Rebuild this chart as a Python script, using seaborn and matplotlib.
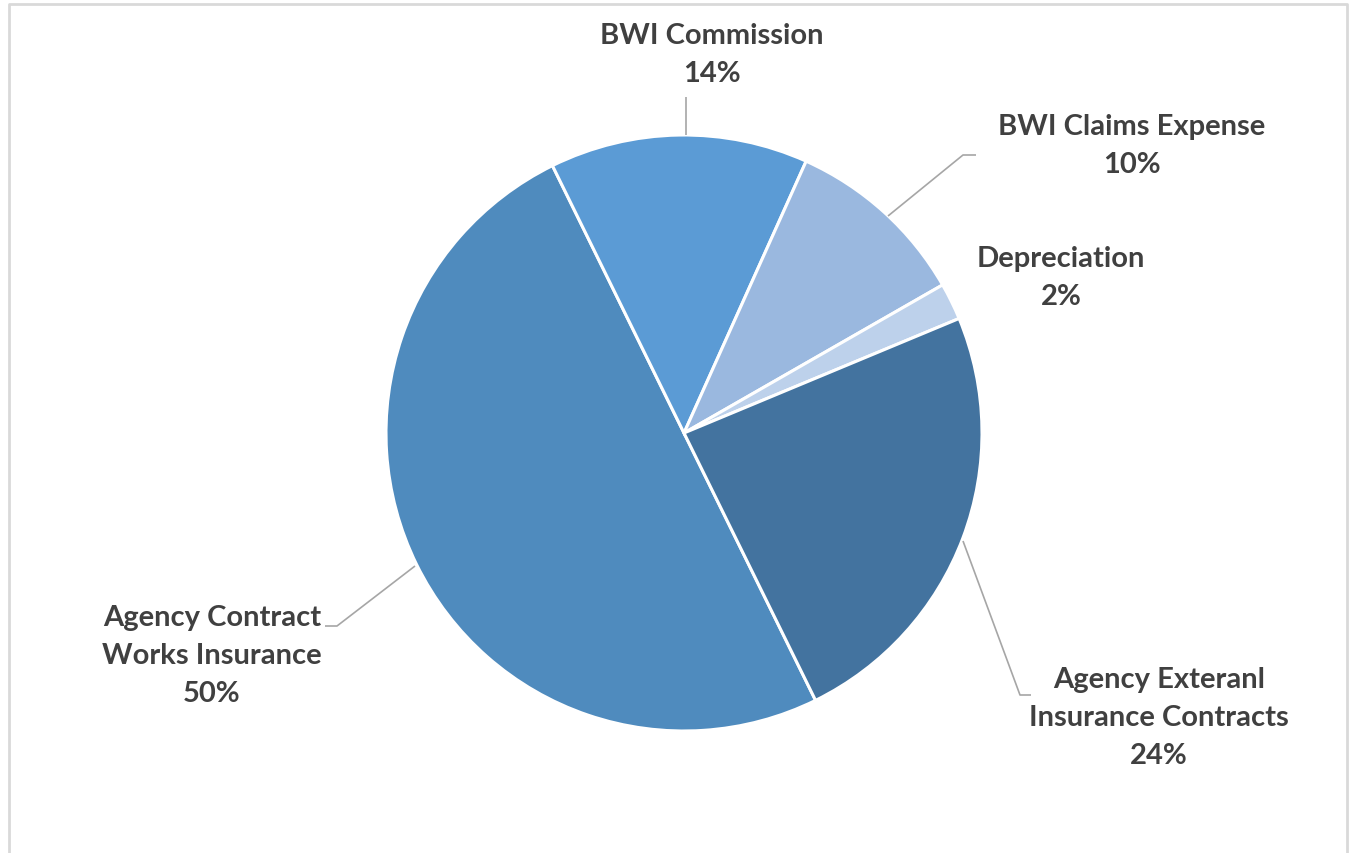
import matplotlib
matplotlib.use("Agg")
import matplotlib.pyplot as plt
import seaborn as sns

# Expense breakdown (percent of total)
categories = [
    "Agency Contract\nWorks Insurance",
    "BWI Commission",
    "BWI Claims Expense",
    "Depreciation",
    "Agency Exteranl\nInsurance Contracts",
]
shares = [50, 14, 10, 2, 24]
slice_colors = ["#4F8BBE", "#5B9BD5", "#9AB8DF", "#BDD1EB", "#43739F"]

sns.set_theme(style="white")
plt.rcParams["font.family"] = ["Lato", "DejaVu Sans"]

W, H = 1354, 854
fig = plt.figure(figsize=(W / 100, H / 100), dpi=100)
ax = fig.add_axes([0, 0, 1, 1])

cx, cy, r = 684, H - 434, 298
wedges, _ = ax.pie(
    shares,
    colors=slice_colors,
    startangle=-63.8,
    counterclock=False,
    center=(cx, cy),
    radius=r,
    wedgeprops=dict(edgecolor="white", linewidth=2.2),
    frame=True,
)
ax.set_xlim(0, W)
ax.set_ylim(0, H)
ax.set_aspect("equal")
ax.axis("off")

txt_color = "#404040"
label_pos = {
    "BWI Commission": (712, 55),
    "BWI Claims Expense": (1132, 146),
    "Depreciation": (1061, 278),
    "Agency Contract\nWorks Insurance": (212, 656),
    "Agency Exteranl\nInsurance Contracts": (1159, 718),
}
for name, val in zip(categories, shares):
    x, y = label_pos[name]
    ax.text(x, H - y, f"{name}\n{val}%", ha="center", va="center",
            fontsize=21, fontweight="bold", color=txt_color,
            linespacing=1.55)

# leader lines from labels to slices
line_kw = dict(color="#A6A6A6", linewidth=1.2, solid_capstyle="butt")
ax.plot([686, 686], [H - 98, H - 136], **line_kw)
ax.plot([976, 963, 888], [H - 156, H - 156, H - 217], **line_kw)
ax.plot([325, 337, 415], [H - 627, H - 627, H - 567], **line_kw)
ax.plot([1031, 1020, 963], [H - 696, H - 696, H - 542], **line_kw)

# chart border (open at the bottom)
border_kw = dict(color="#D9D9D9", linewidth=2.0)
ax.plot([9, 9, 1347, 1347], [0, H - 5, H - 5, 0], **border_kw)

fig.savefig("out.png", dpi=100, facecolor="white")
